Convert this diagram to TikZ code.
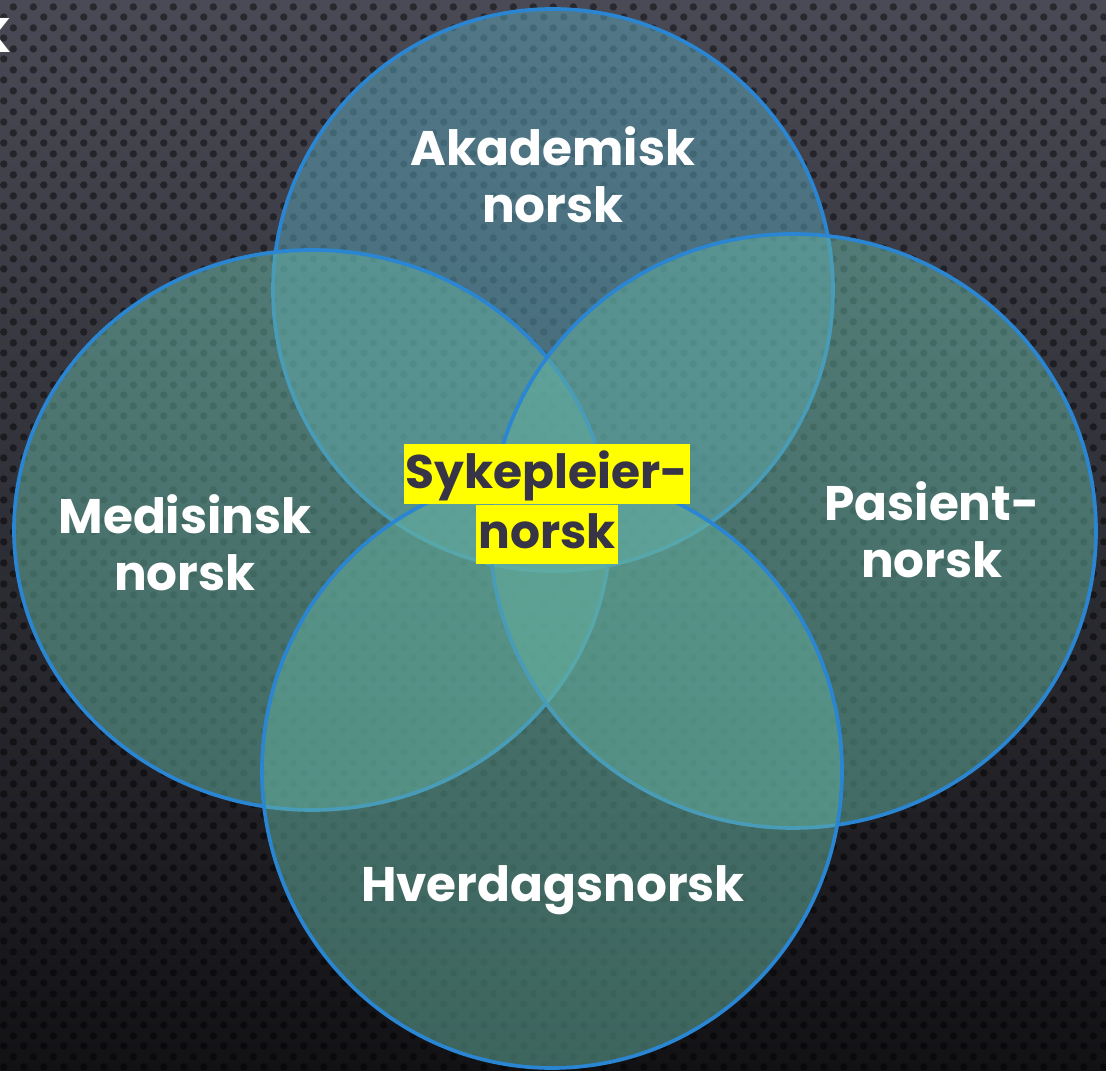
\documentclass[tikz,border=0pt]{standalone}
\usepackage{fontspec}
\setmainfont{Poppins}
\usetikzlibrary{patterns,positioning}
\definecolor{bgtop}{HTML}{4A4A56}
\definecolor{bgbot}{HTML}{121215}
\definecolor{venn}{HTML}{64B0A0}
\definecolor{venntop}{HTML}{5AA2B6}
\definecolor{rim}{HTML}{2A86D2}
\definecolor{hilite}{HTML}{FFFF00}
\definecolor{inkdark}{HTML}{363446}
\pgfdeclarepatternformonly{meshdots}{\pgfpointorigin}{\pgfpoint{5.69pt}{5.98pt}}{\pgfpoint{5.69pt}{5.98pt}}{
	\pgfpathcircle{\pgfpoint{1.42pt}{1.5pt}}{1.1pt}
	\pgfpathcircle{\pgfpoint{4.27pt}{4.49pt}}{1.1pt}
	\pgfusepath{fill}
}

\begin{document}
\begin{tikzpicture}[x=0.01cm,y=-0.01cm,
	set/.style={draw=rim, line width=1.05pt, fill=#1, fill opacity=0.53},
	set/.default=venn,
	lab/.style={text=white, font=\bfseries\fontsize{13.8}{16.3}\selectfont, align=center, inner sep=0pt},
	hl/.style={fill=hilite, text=inkdark, font=\bfseries\fontsize{13.4}{16.3}\selectfont, inner xsep=0.6pt, inner ysep=0.9pt, text height=11.5pt, text depth=3.5pt}]
	%\draw [help lines] (0,0) grid (1106,1071);
	\useasboundingbox (0,0) rectangle (1106,1071);
	\shade [top color=bgtop, bottom color=bgbot] (0,0) rectangle (1106,1071);
	\fill [pattern=meshdots, pattern color=black, fill opacity=0.45] (0,0) rectangle (1106,1071);
	
	\draw [set=venntop] (553,290) ellipse [x radius=280, y radius=281];
	\draw [set] (312,530) ellipse [x radius=298, y radius=280];
	\draw [set] (793,531) ellipse [x radius=303, y radius=297];
	\draw [set] (552,771) ellipse [x radius=290, y radius=297];
	
	\node [lab, anchor=east] (kfrag) at (12,35) {K};
	\node [lab] (akad) at (553,175) {Akademisk\\norsk};
	\node [lab] (medi) at (185,543) {Medisinsk\\norsk};
	\node [lab] (pasi) at (932,530) {Pasient-\\norsk};
	\node [lab] (hverd) at (553,890) {Hverdagsnorsk};
	
	\node [hl] (syke1) at (547,474) {Sykepleier-};
	\node [hl, below=0pt of syke1] (syke2) {norsk};
\end{tikzpicture}
\end{document}
